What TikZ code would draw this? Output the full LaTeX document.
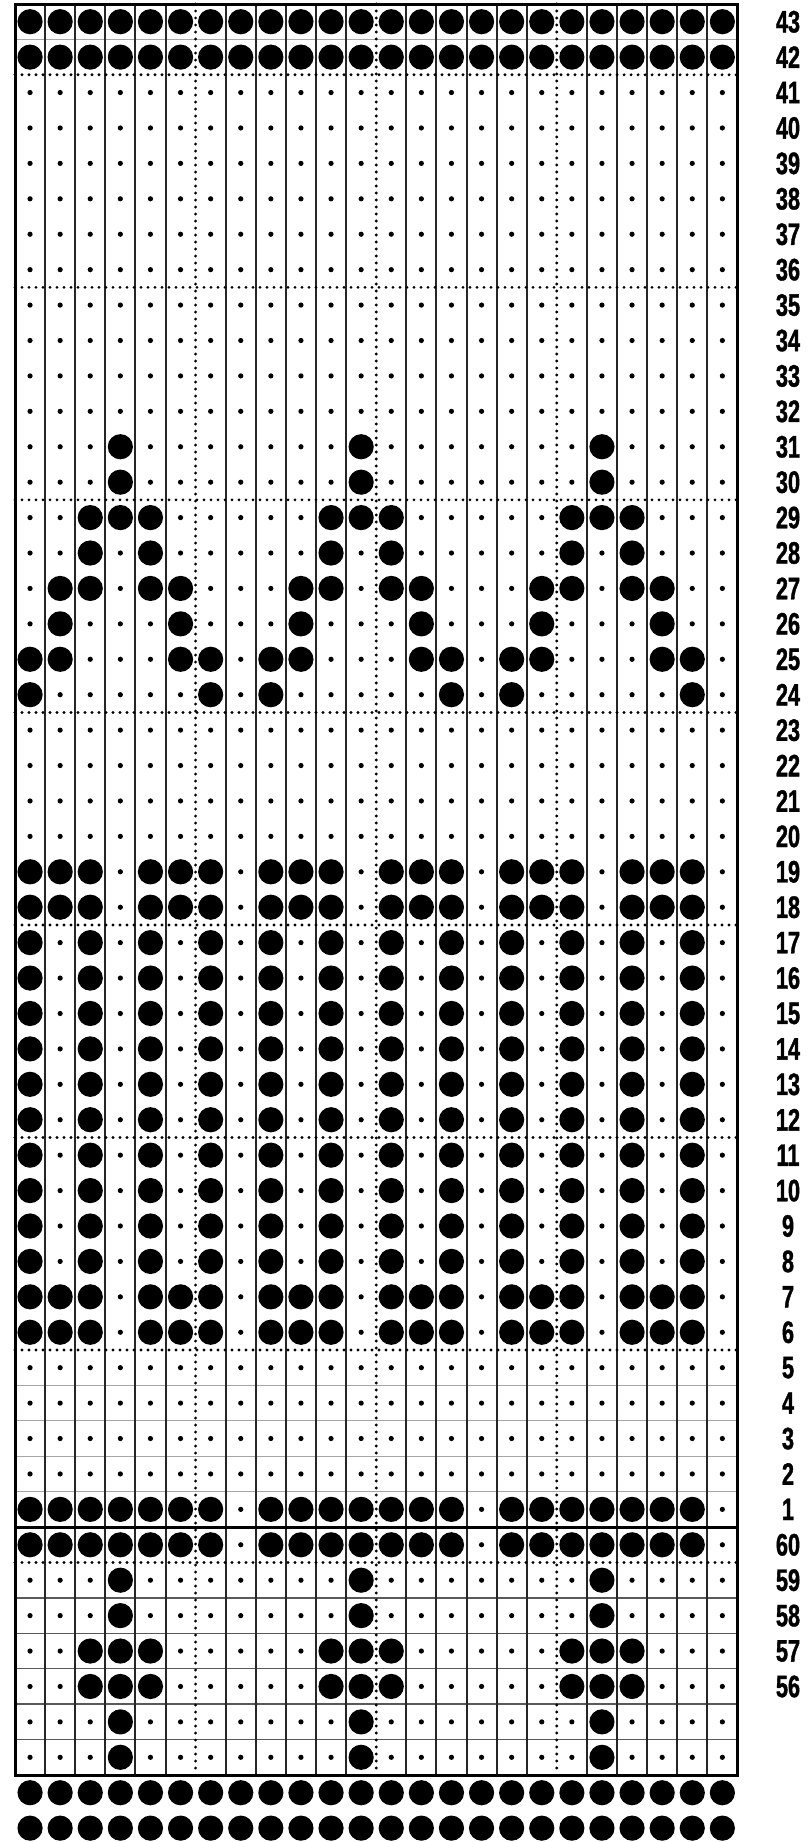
\documentclass[tikz,border=0pt]{standalone}
\usepackage{fontspec}
\newfontfamily\labfont[FakeStretch=0.7,FakeBold=1.2]{Liberation Sans}
\begin{document}
\begin{tikzpicture}[x=0.5pt,y=-0.5pt,
  smalldot/.style={fill=black},
  bigdot/.style={fill=black},
  gridline/.style={draw=black!85,line width=1pt},
  dotline/.style={draw=black,line width=1.6pt,dash pattern=on 0pt off 3.5pt,line cap=round},
  rowline/.style={draw=black!35,line width=0.6pt},
  rowlinedark/.style={draw=black!65,line width=0.7pt},
  border/.style={draw=black,line width=1.5pt},
  rowlabel/.style={font=\labfont\bfseries\fontsize{15.5}{15.5}\selectfont,anchor=center,inner sep=0pt}]
\def\XO{15}\def\CW{30.1}\def\YO{4}\def\RH{35.42}
\pgfmathsetmacro{\XR}{\XO+24*\CW}
\pgfmathsetmacro{\YB}{\YO+50*\RH}
\fill[white] (0,0) rectangle (812,1842);
\useasboundingbox (0,0) rectangle (812,1842);
% small background dots
\foreach \i in {0,...,49}{
  \foreach \c in {1,...,24}{
    \fill[smalldot] ({\XO+(\c-0.5)*\CW},{\YO+(\i+0.5)*\RH}) circle (2.6);
  }
}
% horizontal row lines
\draw[rowline] (\XO,{\YO+1*\RH}) -- (\XR,{\YO+1*\RH});
\foreach \k in {39,40,41,42}{
  \draw[rowline] (\XO,{\YO+\k*\RH}) -- (\XR,{\YO+\k*\RH});
}
\foreach \k in {45,...,49}{
  \draw[rowlinedark] (\XO,{\YO+\k*\RH}) -- (\XR,{\YO+\k*\RH});
}
% vertical solid lines
\foreach \c in {1,2,3,4,5,7,8,9,10,11,13,14,15,16,17,19,20,21,22,23}{
  \draw[gridline] ({\XO+\c*\CW},\YO) -- ({\XO+\c*\CW},\YB);
}
% vertical dotted lines
\foreach \c in {6,12,18}{
  \draw[dotline] ({\XO+\c*\CW},\YO) -- ({\XO+\c*\CW},\YB);
}
% horizontal dotted lines
\foreach \k in {2,8,14,20,26,32,38,44}{
  \draw[dotline] (\XO,{\YO+\k*\RH}) -- (\XR,{\YO+\k*\RH});
}
% big dots
\foreach \a/\z/\L in {0/1/{1,2,3,4,5,6,7,8},12/13/{4},14/14/{3,4,5},15/15/{3,5},
  16/16/{2,3,5,6},17/17/{2,6},18/18/{1,2,6,7},19/19/{1,7},24/25/{1,2,3,5,6,7},
  26/35/{1,3,5,7},36/37/{1,2,3,5,6,7},42/43/{1,2,3,4,5,6,7},44/45/{4},
  46/47/{3,4,5},48/49/{4},50/51/{1,2,3,4,5,6,7,8}}{
  \foreach \i in {\a,...,\z}{
    \foreach \b in \L {
      \foreach \p in {0,8,16}{
        \fill[bigdot] ({\XO+(\b+\p-0.5)*\CW},{\YO+(\i+0.5)*\RH}) circle (12.6);
      }
    }
  }
}
% border and thick line
\draw[border] (\XO,\YO) rectangle (\XR,\YB);
\draw[border] (\XO,{\YO+43*\RH}) -- (\XR,{\YO+43*\RH});
% row labels
\foreach \i in {0,...,42}{
  \pgfmathtruncatemacro{\n}{43-\i}
  \node[rowlabel] (lab\i) at (788,{\YO+(\i+0.5)*\RH}) {\n};
}
\foreach \i in {43,...,47}{
  \pgfmathtruncatemacro{\n}{103-\i}
  \node[rowlabel] (lab\i) at (788,{\YO+(\i+0.5)*\RH}) {\n};
}
\end{tikzpicture}
\end{document}
